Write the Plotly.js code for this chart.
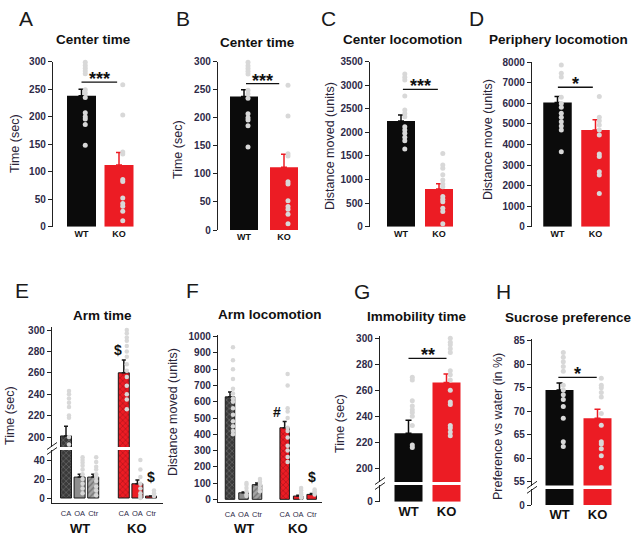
<!DOCTYPE html>
<html><head><meta charset="utf-8">
<script src="https://cdn.plot.ly/plotly-3.0.1.min.js"></script>
<style>html,body{margin:0;padding:0;background:#fff}#chart{width:641px;height:539px}</style>
</head><body><div id="chart"></div>
<script>
// ---------------- DATA ----------------
const groups = ['WT', 'KO'];
const arms = ['CA', 'OA', 'Ctr'];

// A & B: Center time (sec)
const centerTimeMean = [238, 112];
const centerTimeErr = [12, 23];
const centerTimeWT = [299, 293, 288, 283, 278, 249, 243, 235, 207, 200, 196, 186, 148];
const centerTimeKO = [258, 203, 136, 132, 86, 82, 52, 42, 37, 28, 11];

// C: Center locomotion (units)
const centerLocoMean = [2240, 800];
const centerLocoErr = [130, 110];
const centerLocoWT = [3240, 3170, 3110, 2770, 2475, 2400, 2330, 2120, 2050, 1980, 1895, 1825, 1650];
const centerLocoKO = [1555, 1310, 1240, 1100, 990, 905, 850, 640, 580, 530, 390, 320, 60];

// D: Periphery locomotion (units)
const periLocoMean = [6040, 4700];
const periLocoErr = [290, 500];
const periLocoWT = [7870, 7470, 7280, 6300, 6000, 5810, 5520, 5320, 5110, 4900, 4700, 3650];
const periLocoKO = [6330, 5320, 5160, 4950, 4710, 4460, 3540, 3410, 2680, 2520, 1620];

// E: Arm time (sec), per arm CA/OA/Ctr
const armTimeWTMean = [201, 22, 22];
const armTimeWTErr = [9, 3, 3];
const armTimeKOMean = [260, 15, 2];
const armTimeKOErr = [12, 4, 0];
const armTimeWTPts = [[243, 240, 236, 232, 228, 220, 218, 200, 193],
                      [43, 40, 37, 34, 30, 25, 20, 15, 10, 5],
                      [43, 38, 33, 30, 25, 22, 18, 12, 8, 3]];
const armTimeKOPts = [[300, 297, 293, 290, 285, 280, 275, 268, 262, 256, 248, 240, 235, 226],
                      [40, 30, 22, 15, 10, 5, 2, 0],
                      [8, 5, 2]];

// F: Arm locomotion (units)
const armLocoWTMean = [630, 40, 90];
const armLocoWTErr = [30, 5, 10];
const armLocoKOMean = [440, 20, 30];
const armLocoKOErr = [38, 5, 5];
const armLocoWTPts = [[935, 855, 800, 740, 680, 650, 620, 600, 560, 520, 480, 450, 420, 400],
                      [100, 90, 70, 50, 30, 20],
                      [125, 110, 100, 90, 70, 50]];
const armLocoKOPts = [[770, 700, 560, 540, 500, 440, 420, 380, 330, 300, 260, 230],
                      [70, 55, 40, 30, 20, 10],
                      [60, 50, 40, 30]];

// G: Immobility time (sec)
const immobMean = [227, 266];
const immobErr = [10, 6.5];
const immobWT = [270, 268, 252, 248, 245, 243, 240, 233, 218, 216];
const immobKO = [300, 297, 295, 292, 289, 275, 272, 268, 260, 251, 249, 233, 231, 228, 225];

// H: Sucrose preference (%)
const sucroseMean = [74.5, 68.5];
const sucroseErr = [1.5, 1.9];
const sucroseWT = [82.5, 81.5, 80.5, 79.5, 78.5, 75.5, 74.5, 73.5, 72.5, 71, 68.5, 63.5, 62.5];
const sucroseKO = [77, 75.5, 75, 74, 73, 69.5, 67, 63.5, 63, 62, 60.5, 58];

// ---------------- STYLE / LAYOUT ----------------
const W = 641, H = 539;
const pxX = v => v / W;
const pxY = v => 1 - v / H;
const BLACK = '#0b0b0b', RED = '#ec1c24', DOT = '#d8d8d8';
const NAVY = '#2e2a48';
const FONT = 'Liberation Sans, Arial, sans-serif';
const tickFont = {family: FONT, size: 10, color: NAVY, weight: 'bold'};
const groupColors = [BLACK, RED];

const traces = [];
const layout = {
  width: W, height: H, margin: {l: 0, r: 0, t: 0, b: 0},
  paper_bgcolor: '#ffffff', plot_bgcolor: 'rgba(0,0,0,0)',
  showlegend: false, barmode: 'overlay', font: {family: FONT},
  annotations: [], shapes: []
};

function xRange(c) { return [(c.L - c.c0) / c.u, (c.R - c.c0) / c.u]; }

function yAx(top, bottom, range, tickvals, anchor) {
  return {domain: [pxY(bottom), pxY(top)], range: range, tickvals: tickvals, anchor: anchor,
    showline: true, linecolor: '#222', linewidth: 1.2, ticks: 'outside', ticklen: 4,
    tickcolor: '#222', tickwidth: 1, tickfont: tickFont, showgrid: false, zeroline: false};
}
function xAx(c, anchor, show) {
  return {domain: [pxX(c.L), pxX(c.R)], range: xRange(c), anchor: anchor,
    showgrid: false, zeroline: false, showline: false, ticks: '', visible: show !== false};
}

// simple two-bar panel
function twoBar(n, c, means, errs, wtPts, koPts, yr, ticks, opts) {
  opts = opts || {};
  const xa = 'x' + (n === 1 ? '' : n), ya = 'y' + (n === 1 ? '' : n);
  groups.forEach((g, i) => {
    traces.push({type: 'bar', x: [i], y: [means[i]], width: c.bw / c.u, xaxis: xa, yaxis: ya,
      marker: {color: groupColors[i], line: {width: 0}},
      error_y: opts.noErr ? {visible: false} : {type: 'data', symmetric: false, array: [errs[i]], arrayminus: [0],
        color: groupColors[i], thickness: 1.5, width: 3}});
  });
  if (!opts.noDots) {
    [wtPts, koPts].forEach((pts, i) => {
      traces.push({type: 'scatter', mode: 'markers', x: pts.map(() => i + 0.1), y: pts,
        xaxis: xa, yaxis: ya, cliponaxis: false,
        marker: {color: DOT, size: 5, line: {width: 0}}});
    });
  }
  const xk = 'xaxis' + (n === 1 ? '' : n), yk = 'yaxis' + (n === 1 ? '' : n);
  layout[xk] = xAx(c, ya, opts.hideX ? false : true);
  layout[xk].tickvals = [0, 1];
  layout[xk].ticktext = groups;
  layout[xk].tickfont = {family: FONT, size: opts.xfs || 9, color: '#111', weight: 'bold'};
  layout[yk] = yAx(c.T, c.B, yr, ticks, xa);
}

// significance bar + stars
function sig(n, x0, x1, y, text, fs) {
  const xa = 'x' + (n === 1 ? '' : n), ya = 'y' + (n === 1 ? '' : n);
  layout.shapes.push({type: 'line', xref: xa, yref: ya, x0: x0, x1: x1, y0: y, y1: y,
    line: {color: '#111', width: 1.3}});
  layout.annotations.push({xref: xa, yref: ya, x: (x0 + x1) / 2, y: y, text: text, showarrow: false,
    yanchor: 'middle', yshift: 3, font: {family: FONT, size: fs || 18, color: '#111', weight: 'bold'}});
}

function paperText(x, y, text, size, opts) {
  opts = opts || {};
  layout.annotations.push(Object.assign({xref: 'paper', yref: 'paper', x: pxX(x), y: pxY(y), text: text,
    showarrow: false, xanchor: 'center', yanchor: 'middle',
    font: {family: FONT, size: size, color: opts.color || '#111', weight: opts.weight || 'normal'}},
    opts.extra || {}));
}

function breakMark(x, y) {
  [-2.5, 2.5].forEach(d => {
    layout.shapes.push({type: 'line', xref: 'paper', yref: 'paper',
      x0: pxX(x - 5), y0: pxY(y + d + 3.5), x1: pxX(x + 5), y1: pxY(y + d - 3.5),
      line: {color: '#222', width: 1}});
  });
}

// ---- Panels A-D ----
const cA = {L: 53, R: 140, T: 61.7, B: 226.7, c0: 81.5, u: 37.5, bw: 29};
const cB = {L: 218, R: 305, T: 61.7, B: 230, c0: 244, u: 40, bw: 28};
const cC = {L: 370, R: 460, T: 61.7, B: 226.7, c0: 401, u: 38, bw: 28};
const cD = {L: 532, R: 615, T: 62.3, B: 226.7, c0: 557.5, u: 38, bw: 28.5};
const t300 = [0, 50, 100, 150, 200, 250, 300];
twoBar(1, cA, centerTimeMean, centerTimeErr, centerTimeWT, centerTimeKO, [0, 300], t300);
twoBar(2, cB, centerTimeMean, centerTimeErr, centerTimeWT, centerTimeKO, [0, 300], t300);
twoBar(3, cC, centerLocoMean, centerLocoErr, centerLocoWT, centerLocoKO, [0, 3500],
  [0, 500, 1000, 1500, 2000, 2500, 3000, 3500]);
twoBar(4, cD, periLocoMean, periLocoErr, periLocoWT, periLocoKO, [0, 8000],
  [0, 1000, 2000, 3000, 4000, 5000, 6000, 7000, 8000]);
sig(1, 0, 0.95, 263, '***');
sig(2, 0.05, 0.88, 261, '***');
sig(3, 0.05, 0.97, 2914, '***');
sig(4, 0.01, 0.93, 6785, '*');

// ---- Panels E & F (arm bars, grouped) ----
const cE = {L: 52, R: 163, c0: 66, u: 13.6, bw: 11, ko: 4.25};
const cF = {L: 218, R: 322, c0: 230, u: 13.5, bw: 9.5, ko: 4.05};
// bar looks per arm: [fill, pattern shape, pattern line colour]
const wtStyle = [['#3a3a3a', 'x', '#a0a0a0'], ['#8e8e8e', '', ''], ['#a4a4a4', '/', '#3a3a3a']];
const koStyle = [[RED, 'x', '#6d0c10'], [RED, '', ''], [RED, '', '']];

function armBars(c, xa, ya, wtMean, wtErr, koMean, koErr, wtPts, koPts, clip) {
  [[wtMean, wtErr, wtStyle, wtPts, 0], [koMean, koErr, koStyle, koPts, c.ko]].forEach(([m, e, st, pts, off]) => {
    arms.forEach((a, j) => {
      const s = st[j];
      const mk = {color: s[0], line: {color: '#1a1a1a', width: 1}};
      if (s[1]) mk.pattern = {shape: s[1], fillmode: 'overlay', fgcolor: s[2], size: 4, solidity: 0.3};
      traces.push({type: 'bar', x: [off + j], y: [m[j]], width: c.bw / c.u,
        xaxis: xa, yaxis: ya, marker: mk,
        error_y: {type: 'data', symmetric: false, array: [e[j]], arrayminus: [0],
          color: '#1a1a1a', thickness: 1.5, width: 2}});
    });
    pts.forEach((p, j) => {
      traces.push({type: 'scatter', mode: 'markers', x: p.map(() => off + j + 0.22), y: p,
        xaxis: xa, yaxis: ya, cliponaxis: clip,
        marker: {color: DOT, size: 4.5, line: {width: 0}}});
    });
  });
}
function armTicks(c) {
  const vals = [], txt = [];
  [0, c.ko].forEach(off => arms.forEach((a, j) => { vals.push(off + j); txt.push(a); }));
  return {tickvals: vals, ticktext: txt};
}

// E upper (x5/y5) and lower (x6/y6)
armBars(cE, 'x5', 'y5', armTimeWTMean, armTimeWTErr, armTimeKOMean, armTimeKOErr, armTimeWTPts, armTimeKOPts, true);
armBars(cE, 'x6', 'y6', armTimeWTMean, armTimeWTErr, armTimeKOMean, armTimeKOErr, armTimeWTPts, armTimeKOPts, true);
layout.xaxis5 = xAx(cE, 'y5', false);
layout.yaxis5 = yAx(327, 447, [300 - (447 - 330) / 1.07, 300 + 3 / 1.07], [200, 220, 240, 260, 280, 300], 'x5');
layout.xaxis6 = Object.assign(xAx(cE, 'y6'), armTicks(cE), {showline: true, linecolor: '#222', linewidth: 1.2,
  ticks: 'outside', ticklen: 3, tickcolor: 'rgba(0,0,0,0)',
  tickfont: {family: FONT, size: 7.5, color: NAVY}});
layout.yaxis6 = yAx(450, 503, [-5 / 0.95, 48 / 0.95], [0, 20, 40], 'x6');
breakMark(52, 448.5);

// F (x7/y7)
armBars(cF, 'x7', 'y7', armLocoWTMean, armLocoWTErr, armLocoKOMean, armLocoKOErr, armLocoWTPts, armLocoKOPts, false);
layout.xaxis7 = Object.assign(xAx(cF, 'y7'), armTicks(cF), {showline: true, linecolor: '#222', linewidth: 1.2,
  ticks: 'outside', ticklen: 5, tickcolor: 'rgba(0,0,0,0)',
  tickfont: {family: FONT, size: 7.5, color: NAVY}});
layout.yaxis7 = yAx(335, 502, [-(502 - 499.3) / 0.1626, 1000 + (336.7 - 335) / 0.1626],
  [0, 100, 200, 300, 400, 500, 600, 700, 800, 900, 1000], 'x7');

// group labels for E/F
[[cE, 'x6'], [cF, 'x7']].forEach(([c, xa]) => {
  groups.forEach((g, i) => {
    layout.annotations.push({xref: xa, yref: 'paper', x: (i === 0 ? 0 : c.ko) + 1, y: pxY(528.5), text: g,
      showarrow: false, xanchor: 'center', yanchor: 'middle',
      font: {family: FONT, size: 13, color: '#111', weight: 'bold'}});
  });
});
// markers of significance in E/F
function mark(xa, ya, x, y, text) {
  layout.annotations.push({xref: xa, yref: ya, x: x, y: y, text: text, showarrow: false,
    xanchor: 'center', yanchor: 'middle', font: {family: FONT, size: 14, color: '#111', weight: 'bold'}});
}
mark('x5', 'y5', cE.ko - 0.43, 281, '$');
mark('x6', 'y6', cE.ko + 2, 22, '$');
mark('x7', 'y7', cF.ko - 0.57, 539, '#');
mark('x7', 'y7', cF.ko + 2, 138, '$');

// ---- G (x8/y8 upper, x9/y9 lower) ----
const cG = {L: 380, R: 468, T: 336, B: 482, c0: 408.5, u: 38, bw: 28};
twoBar(8, cG, immobMean, immobErr, immobWT, immobKO, [300 - (482 - 338.3) / 1.3, 300 + 2.3 / 1.3],
  [200, 220, 240, 260, 280, 300], {hideX: true});
twoBar(9, {L: 380, R: 468, T: 485, B: 501.7, c0: 408.5, u: 38, bw: 28}, immobMean, immobErr, [], [],
  [0, 16.7 / 1.3], [0], {noErr: true, noDots: true, xfs: 13});
sig(8, 0, 1.0, 284.6, '**');
breakMark(380, 483.5);

// ---- H (x10/y10 upper, x11/y11 lower) ----
const cH = {L: 532, R: 620, T: 339, B: 485.5, c0: 559.5, u: 38, bw: 28};
twoBar(10, cH, sucroseMean, sucroseErr, sucroseWT, sucroseKO, [85 - (485.5 - 340.7) / 4.7, 85 + 1.7 / 4.7],
  [55, 60, 65, 70, 75, 80, 85], {hideX: true});
twoBar(11, {L: 532, R: 620, T: 489, B: 505, c0: 559.5, u: 38, bw: 28}, sucroseMean, sucroseErr, [], [],
  [0, 16 / 4.7], [0], {noErr: true, noDots: true, xfs: 13});
sig(10, -0.03, 0.98, 77.2, '*');
breakMark(532, 487.3);

// ---- text: letters, titles, y titles ----
const letters = [['A', 26, 18], ['B', 183, 18], ['C', 328, 18], ['D', 476, 18],
                 ['E', 22, 290], ['F', 192, 290], ['G', 362, 291], ['H', 503, 291]];
letters.forEach(([t, x, y]) => paperText(x, y, t, 21, {color: '#1a1a1a'}));

const titles = [['Center time', 93.5, 40], ['Center time', 257, 42], ['Center locomotion', 402.5, 40],
  ['Periphery locomotion', 558, 40], ['Arm time', 102, 315], ['Arm locomotion', 270, 314],
  ['Immobility time', 417, 316], ['Sucrose preference', 568, 317]];
titles.forEach(([t, x, y]) => paperText(x, y, t, 13.5, {weight: 'bold'}));

const yTitles = [['Time (sec)', 15, 144], ['Time (sec)', 178, 150], ['Distance moved (units)', 330, 146],
  ['Distance move (units)', 488, 140], ['Time (sec)', 10, 416], ['Distance moved (units)', 173, 412],
  ['Time (sec)', 340, 424], ['Preference vs water (in %)', 498, 427]];
yTitles.forEach(([t, x, y]) => paperText(x, y, t, 12.5, {color: '#2a2438', extra: {textangle: -90}}));

Plotly.newPlot('chart', traces, layout, {staticPlot: true, displayModeBar: false});
</script>
</body></html>
